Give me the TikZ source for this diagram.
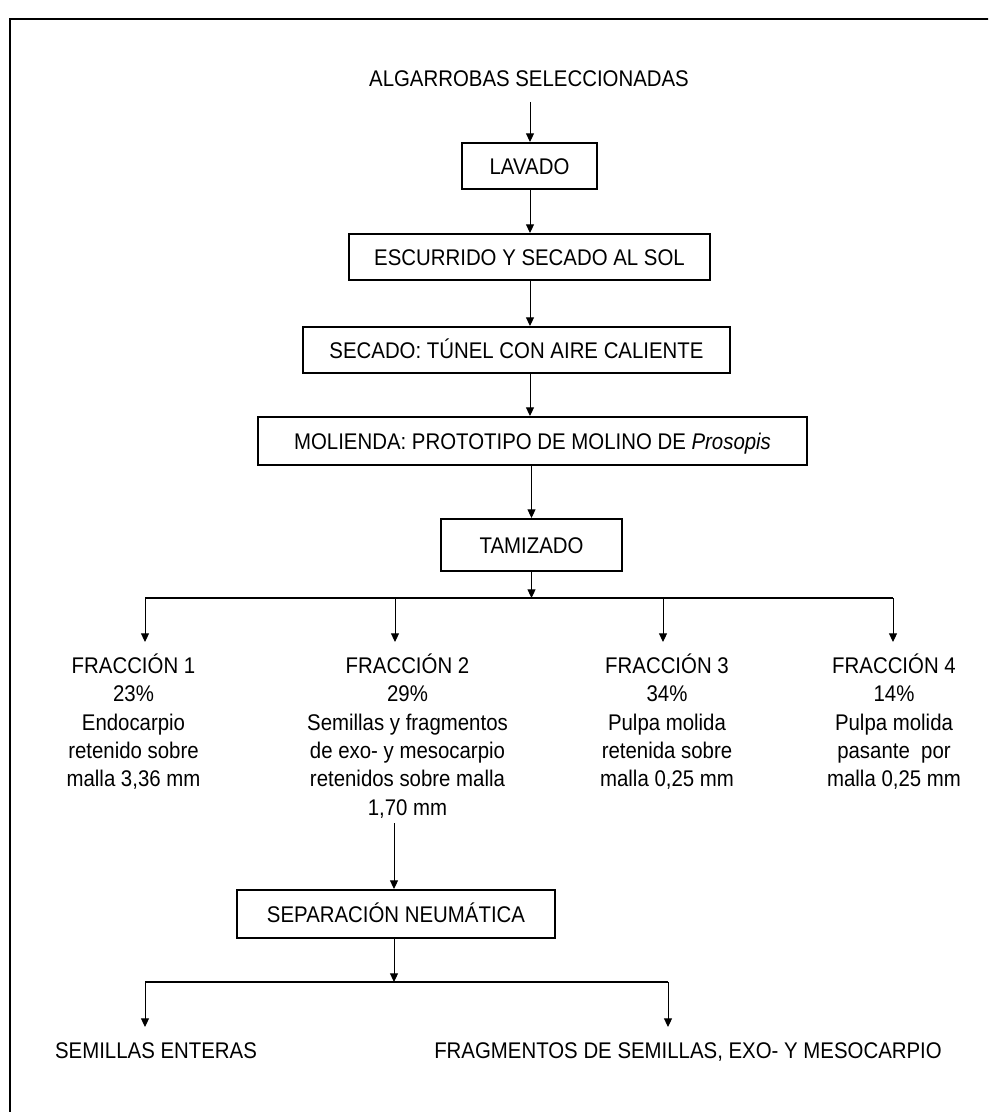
\documentclass[tikz,border=0pt]{standalone}
\usepackage{fontspec}
\setmainfont{Liberation Sans}[FakeStretch=0.9]
\usetikzlibrary{arrows.meta}
\begin{document}
\begin{tikzpicture}[x=0.75pt,y=-0.75pt,
  font=\fontsize{17}{21.3}\selectfont,
  box/.style={draw, line width=1.5pt, inner sep=0pt, text height=12.2pt, text depth=0pt},
  arr/.style={line width=0.75pt, -{Triangle[width=6pt,length=6.5pt]}},
  bar/.style={line width=1.5pt},
  frac/.style={anchor=north, align=center, inner sep=0pt},
  plain/.style={inner sep=0pt, text height=12.2pt, text depth=0pt}]
\useasboundingbox (0,0) rectangle (988,1112);
\begin{scope}
  \clip (0,0) rectangle (988,1112);
  \draw[line width=1.5pt] (10,19) rectangle (1100,1200);
\end{scope}

\node[plain] (start) at (529,78) {ALGARROBAS SELECCIONADAS};
\node[box, minimum width=101.25pt, minimum height=34.5pt] (lavado) at (529.5,166) {LAVADO};
\node[box, minimum width=270.75pt, minimum height=34.5pt] (escurrido) at (529.5,257) {ESCURRIDO Y SECADO AL SOL};
\node[box, minimum width=320.25pt, minimum height=34.5pt] (secado) at (516.5,350) {SECADO: TÚNEL CON AIRE CALIENTE};
\node[box, minimum width=411.75pt, minimum height=36pt] (molienda) at (532.5,441) {MOLIENDA: PROTOTIPO DE MOLINO DE \textit{Prosopis}};
\node[box, minimum width=135.75pt, minimum height=39pt] (tamizado) at (531.5,545) {TAMIZADO};

\coordinate (s0) at (530,102);
\draw[arr] (s0) -- (s0 |- lavado.north);
\draw[arr] (s0 |- lavado.south) -- (s0 |- escurrido.north);
\draw[arr] (s0 |- escurrido.south) -- (s0 |- secado.north);
\draw[arr] (s0 |- secado.south) -- (s0 |- molienda.north);
\draw[arr] (tamizado.north |- molienda.south) -- (tamizado.north);

\coordinate (b1) at (145,598);
\coordinate (b2) at (395,598);
\coordinate (b3) at (663,598);
\coordinate (b4) at (893,598);
\draw[arr] (tamizado.south) -- (tamizado.south |- b1);
\draw[bar] (b1) -- (b4);

\node[frac] (f1) at (133.5,651.7) {\rule{0pt}{16pt}FRACCIÓN 1\\23\%\\Endocarpio\\retenido sobre\\malla 3,36 mm};
\node[frac] (f2) at (407.5,651.7) {\rule{0pt}{16pt}FRACCIÓN 2\\29\%\\Semillas y fragmentos\\de exo- y mesocarpio\\retenidos sobre malla\\1,70 mm};
\node[frac] (f3) at (667,651.7) {\rule{0pt}{16pt}FRACCIÓN 3\\34\%\\Pulpa molida\\retenida sobre\\malla 0,25 mm};
\node[frac] (f4) at (894,651.7) {\rule{0pt}{16pt}FRACCIÓN 4\\14\%\\Pulpa molida\\pasante\ \ por\\malla 0,25 mm};

\coordinate (e1) at (145,642);
\coordinate (e2) at (395,642);
\coordinate (e3) at (663,642);
\coordinate (e4) at (893,642);
\draw[arr] (b1) -- (e1);
\draw[arr] (b2) -- (e2);
\draw[arr] (b3) -- (e3);
\draw[arr] (b4) -- (e4);

\node[box, minimum width=238.5pt, minimum height=36pt] (sep) at (396,914) {SEPARACIÓN NEUMÁTICA};
\coordinate (s2) at (394,823);
\draw[arr] (s2) -- (s2 |- sep.north);

\coordinate (c1) at (145,982);
\coordinate (c2) at (668,982);
\draw[arr] (s2 |- sep.south) -- (s2 |- c1);
\draw[bar] (c1) -- (c2);
\coordinate (d1) at (145,1027);
\coordinate (d2) at (668,1027);
\draw[arr] (c1) -- (d1);
\draw[arr] (c2) -- (d2);

\node[plain] (enteras) at (156,1050) {SEMILLAS ENTERAS};
\node[plain] (fragm) at (688,1050) {FRAGMENTOS DE SEMILLAS, EXO- Y MESOCARPIO};
\end{tikzpicture}
\end{document}
